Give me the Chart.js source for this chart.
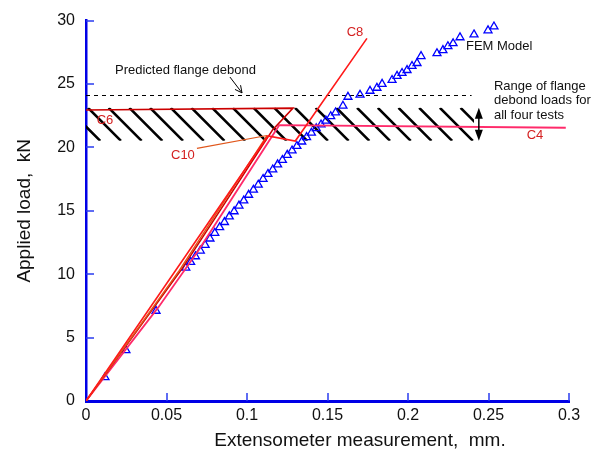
<!DOCTYPE html>
<html><head><meta charset="utf-8">
<script src="https://cdn.jsdelivr.net/npm/chart.js@4.4.1/dist/chart.umd.min.js"></script>
<style>html,body{margin:0;padding:0;background:#fff;}#wrap{width:592px;height:456px;}</style>
</head><body><div id="wrap"><canvas id="c" width="592" height="456"></canvas></div>
<script>
// ---- data ----
const femX = [0.0118, 0.0248, 0.0435,
  0.062, 0.065, 0.068, 0.071, 0.074, 0.077, 0.080, 0.083, 0.086, 0.089, 0.092, 0.095, 0.098, 0.101, 0.104, 0.107,
  0.110, 0.113, 0.116, 0.119, 0.122, 0.125, 0.128, 0.131, 0.134, 0.137, 0.140, 0.143, 0.146, 0.149, 0.152, 0.155,
  0.1596, 0.1627, 0.1702, 0.1764, 0.1807, 0.1839, 0.1901, 0.1932, 0.1963, 0.1994, 0.2025, 0.2056, 0.2081,
  0.2180, 0.2217, 0.2248, 0.2280, 0.2323, 0.2410, 0.2497, 0.2534];
const femY = [1.86, 4.0, 7.1,
  10.5, 10.95, 11.4, 11.85, 12.3, 12.8, 13.25, 13.7, 14.1, 14.55, 14.95, 15.4, 15.8, 16.25, 16.65, 17.05,
  17.5, 17.9, 18.25, 18.65, 19.0, 19.4, 19.75, 20.1, 20.45, 20.8, 21.15, 21.5, 21.8, 22.1, 22.45, 22.75,
  23.28, 23.98, 24.14, 24.45, 24.69, 25.0, 25.31, 25.63, 25.86, 26.09, 26.41, 26.64, 27.19,
  27.42, 27.66, 27.97, 28.2, 28.67, 28.9, 29.22, 29.53];
const c8X = [0, 0.113, 0.130, 0.1745];
const c8Y = [0, 20.9, 20.5, 28.6];
const c6X = [0, 0.060, 0.116, 0.1286, 0];
const c6Y = [0, 10.5, 21.4, 23.1, 22.95];
const c10X = [0, 0.058, 0.1125];
const c10Y = [0, 10.3, 20.95];
const c4X = [0, 0.045, 0.070, 0.12, 0.298];
const c4Y = [0, 7.4, 11.9, 21.75, 21.55];
const debondRange = [20.52, 23.12];
const rangeEndX = 0.241;
const predictedDebond = 24.16;
const predictedEndX = 0.2395;
const xTicks = [0, 0.05, 0.1, 0.15, 0.2, 0.25, 0.3];
const xTickLabels = ['0', '0.05', '0.1', '0.15', '0.2', '0.25', '0.3'];
const yTicks = [0, 5, 10, 15, 20, 25, 30];
const yTickLabels = ['0', '5', '10', '15', '20', '25', '30'];

const pts = (xs, ys) => xs.map((v, i) => ({x: v, y: ys[i]}));
const FONT = '"Liberation Sans", Arial, sans-serif';
Chart.defaults.font.family = FONT;
const AXIS_BLUE = '#0000e6';
const LABEL_RED = '#d42020';

function arrowHead(ctx, x1, y1, x2, y2, len, half, filled) {
  const a = Math.atan2(y2 - y1, x2 - x1);
  const bx = x2 - len * Math.cos(a), by = y2 - len * Math.sin(a);
  const px = -Math.sin(a) * half, py = Math.cos(a) * half;
  ctx.beginPath();
  ctx.moveTo(bx + px, by + py); ctx.lineTo(x2, y2); ctx.lineTo(bx - px, by - py);
  if (filled) { ctx.closePath(); ctx.fill(); } else ctx.stroke();
}

const annot = {
  id: 'annot',
  beforeDatasetsDraw(chart) {
    const {ctx, scales: {x, y}} = chart;
    const L = x.getPixelForValue(0), R = x.getPixelForValue(rangeEndX);
    const T = y.getPixelForValue(debondRange[1]), B = y.getPixelForValue(debondRange[0]);
    ctx.save();
    ctx.beginPath(); ctx.rect(L, T, R - L, B - T); ctx.clip();
    ctx.strokeStyle = '#000'; ctx.lineWidth = 2.6;
    const h = B - T, sp = 20.7;
    ctx.beginPath();
    for (let sx = L + 2 - 3 * sp; sx < R + sp; sx += sp) { ctx.moveTo(sx, T); ctx.lineTo(sx + h, B); }
    ctx.stroke();
    ctx.restore();
    ctx.save();
    const yd = Math.round(y.getPixelForValue(predictedDebond)) + 0.5;
    ctx.strokeStyle = '#000'; ctx.lineWidth = 1; ctx.setLineDash([4, 4]);
    ctx.beginPath(); ctx.moveTo(L, yd); ctx.lineTo(x.getPixelForValue(predictedEndX), yd); ctx.stroke();
    ctx.restore();
  },
  afterDatasetsDraw(chart) {
    const {ctx, scales: {x, y}} = chart;
    const X = v => x.getPixelForValue(v), Y = v => y.getPixelForValue(v);
    ctx.save();
    const ax = X(0.244), at = Y(debondRange[1]), ab = Y(debondRange[0]);
    ctx.strokeStyle = '#000'; ctx.fillStyle = '#000'; ctx.lineWidth = 1.5;
    ctx.beginPath(); ctx.moveTo(ax, at + 8); ctx.lineTo(ax, ab - 8); ctx.stroke();
    arrowHead(ctx, ax, ab, ax, at, 11, 4, true);
    arrowHead(ctx, ax, at, ax, ab, 11, 4, true);
    ctx.lineWidth = 1;
    const p1x = X(0.0894), p1y = Y(25.55), p2x = X(0.0969), p2y = Y(24.3);
    ctx.beginPath(); ctx.moveTo(p1x, p1y); ctx.lineTo(p2x, p2y); ctx.stroke();
    arrowHead(ctx, p1x, p1y, p2x, p2y, 7, 3.5, false);
    ctx.strokeStyle = '#e0561b'; ctx.lineWidth = 1.2;
    ctx.beginPath(); ctx.moveTo(X(0.0689), Y(19.92)); ctx.lineTo(X(0.1124), Y(20.94)); ctx.stroke();
    ctx.font = '13px ' + FONT; ctx.textBaseline = 'middle';
    ctx.fillStyle = LABEL_RED; ctx.textAlign = 'center';
    ctx.fillText('C8', X(0.1671), Y(29.06));
    ctx.fillText('C6', X(0.0118), Y(22.1));
    ctx.fillText('C10', X(0.0602), Y(19.375));
    ctx.fillText('C4', X(0.2789), Y(20.94));
    ctx.fillStyle = '#111'; ctx.textAlign = 'left';
    ctx.fillText('FEM Model', X(0.236), Y(27.93));
    ctx.fillText('Predicted flange debond', X(0.018), Y(26.05));
    ctx.fillText('Range of flange', X(0.2534), Y(24.84));
    ctx.fillText('debond loads for', X(0.2534), Y(23.67));
    ctx.fillText('all four tests', X(0.2534), Y(22.5));
    ctx.restore();
  },
  afterDraw(chart) {
    const {ctx, chartArea: ca, scales: {x, y}} = chart;
    ctx.save();
    ctx.strokeStyle = '#2a3cf0'; ctx.lineWidth = 1.5;
    ctx.beginPath();
    yTicks.forEach(v => { if (v === 0) return; const py = Math.round(y.getPixelForValue(v)); ctx.moveTo(ca.left, py); ctx.lineTo(ca.left + 8, py); });
    xTicks.forEach(v => { if (v === 0) return; const px = Math.round(x.getPixelForValue(v)); ctx.moveTo(px, ca.bottom); ctx.lineTo(px, ca.bottom - 8); });
    ctx.stroke();
    ctx.fillStyle = '#111'; ctx.font = '19px ' + FONT; ctx.textAlign = 'center'; ctx.textBaseline = 'middle';
    ctx.fillText('Extensometer measurement,  mm.', 360, 441);
    ctx.restore();
  }
};

const lineDs = (label, xs, ys, color, w) => ({
  label, data: pts(xs, ys), showLine: true, borderColor: color, borderWidth: w,
  pointRadius: 0, fill: false, tension: 0
});

new Chart(document.getElementById('c'), {
  type: 'scatter',
  data: {
    datasets: [
      lineDs('C8', c8X, c8Y, '#ff1a1a', 1.6),
      lineDs('C10', c10X, c10Y, '#e0561b', 1.5),
      lineDs('C6', c6X, c6Y, '#cc0000', 1.6),
      lineDs('C4', c4X, c4Y, '#ff2a6a', 1.8),
      { label: 'FEM Model', data: pts(femX, femY), showLine: false, pointStyle: 'triangle',
        pointRadius: 4.6, pointBorderWidth: 1.3, borderColor: '#0000ff', backgroundColor: 'rgba(0,0,0,0)' }
    ]
  },
  options: {
    responsive: false, animation: false, devicePixelRatio: 1,
    layout: {padding: {top: 17, right: 23, left: 0, bottom: 0}},
    plugins: {legend: {display: false}, tooltip: {enabled: false}},
    scales: {
      x: {
        type: 'linear', min: 0, max: 0.3,
        afterBuildTicks: s => { s.ticks = xTicks.map(v => ({value: v})); },
        afterFit: s => { s.height = 55; },
        ticks: {callback: (v, i) => xTickLabels[i], color: '#111', font: {size: 16}, padding: 5, maxRotation: 0},
        grid: {display: false, drawTicks: false},
        border: {display: true, color: AXIS_BLUE, width: 3}
      },
      y: {
        type: 'linear', min: 0, max: 30,
        afterBuildTicks: s => { s.ticks = yTicks.map(v => ({value: v})); },
        afterFit: s => { s.width = 86; },
        ticks: {callback: (v, i) => yTickLabels[i], color: '#111', font: {size: 16}, padding: 11},
        grid: {display: false, drawTicks: false},
        border: {display: true, color: AXIS_BLUE, width: 2.5},
        title: {display: true, text: 'Applied load,  kN', color: '#111', font: {size: 19}, padding: {top: 13, bottom: 0}}
      }
    }
  },
  plugins: [annot]
});
</script>
</body></html>
